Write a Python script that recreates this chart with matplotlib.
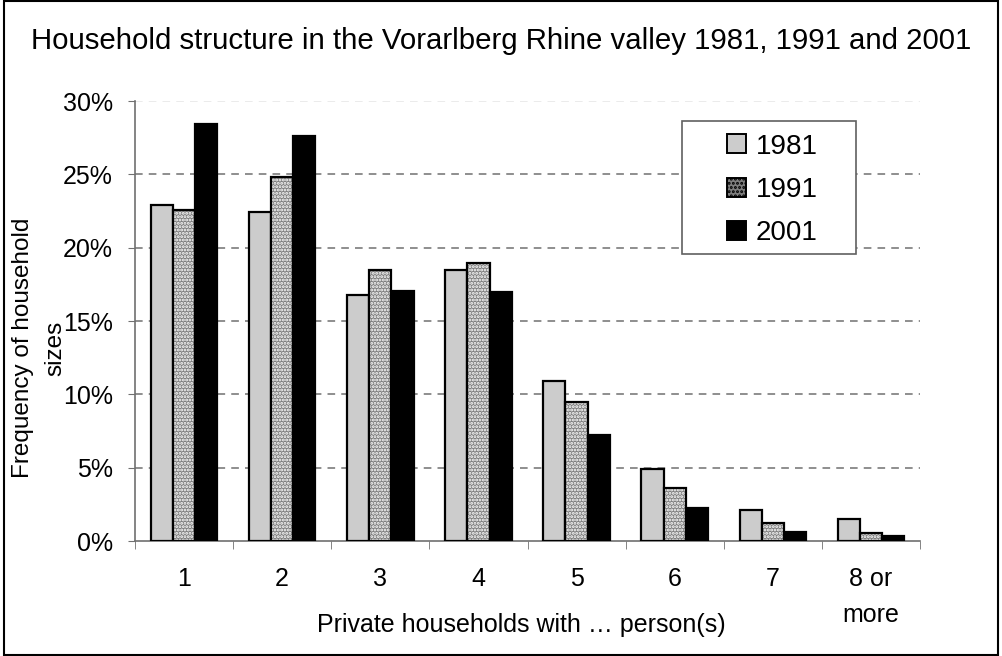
import numpy as np
import matplotlib.pyplot as plt
from matplotlib.patches import Patch, Rectangle

plt.rcParams['font.family'] = ['Liberation Sans', 'DejaVu Sans']
plt.rcParams['hatch.linewidth'] = 1.4

categories = ["1", "2", "3", "4", "5", "6", "7", "8 or\nmore"]
years = ["1981", "1991", "2001"]
v1981 = [22.9, 22.4, 16.8, 18.5, 10.9, 4.9, 2.1, 1.5]
v1991 = [22.6, 24.8, 18.5, 18.95, 9.5, 3.6, 1.25, 0.57]
v2001 = [28.4, 27.6, 17.05, 16.95, 7.25, 2.25, 0.6, 0.32]

fig = plt.figure(figsize=(10.02, 6.56), dpi=100)
ax = fig.add_axes([0.1347, 0.1753, 0.7835, 0.6707])

x = np.arange(len(categories))
w = 0.226

# grid
for g in [5, 10, 15, 20, 25]:
    ax.axhline(g, color='#707070', ls=(0, (5, 4)), lw=1.1, zorder=0)
ax.axhline(30, color='#e6e6e6', ls=(0, (5, 4)), lw=1.1, zorder=0)

ax.bar(x - w, v1981, w, color='#cccccc', edgecolor='black', lw=1.6, zorder=3)
# dotted pattern for 1991: grey fill with white dots, then black outline
ax.bar(x, v1991, w, color='#7f7f7f', edgecolor='white', hatch='.....', lw=0, zorder=3)
ax.bar(x, v1991, w, fill=False, edgecolor='black', lw=1.6, zorder=4)
ax.bar(x + w, v2001, w, color='black', edgecolor='black', lw=1.6, zorder=3)

ax.set_xlim(-0.5, len(categories) - 0.5)
ax.set_ylim(0, 30)
ax.set_yticks(range(0, 31, 5))
ax.set_yticklabels([f"{t}%" for t in range(0, 31, 5)], fontsize=18)
ax.set_xticks(x)
ax.set_xticklabels(categories, fontsize=18, linespacing=1.6)
ax.set_xticks(np.arange(-0.5, len(categories)), minor=True)
ax.tick_params(axis='x', which='major', length=0, pad=19)
ax.tick_params(axis='x', which='minor', length=5.5, color='#707070', direction='out')
ax.tick_params(axis='y', length=5, color='#707070', direction='out', pad=11)

for s in ['top', 'right']:
    ax.spines[s].set_visible(False)
for s in ['left', 'bottom']:
    ax.spines[s].set_color('#707070')
    ax.spines[s].set_linewidth(1.2)

ax.set_xlabel("Private households with \u2026 person(s)", fontsize=18)
ax.xaxis.label.set_va('center')
ax.xaxis.set_label_coords(0.4917, -0.19)
ax.set_ylabel("Frequency of household\nsizes", fontsize=17.5, linespacing=1.63)
ax.yaxis.label.set_va('center')
ax.yaxis.set_label_coords(-0.1223, 0.4386)

fig.text(0.5, 0.938, "Household structure in the Vorarlberg Rhine valley 1981, 1991 and 2001",
         ha='center', va='center', fontsize=21.2)

# legend box drawn by hand, entries placed inside it
ax.add_patch(Rectangle((0.697, 0.652), 0.2217, 0.303, transform=ax.transAxes,
                       facecolor='white', edgecolor='#606060', lw=1.2, zorder=5))
handles = [
    Patch(facecolor='#cccccc', edgecolor='black', lw=1.4),
    Patch(facecolor='#7f7f7f', edgecolor='black', lw=1.4, hatch='....'),
    Patch(facecolor='black', edgecolor='black', lw=1.4),
]
leg = ax.legend(handles, years, loc='center', bbox_to_anchor=(0.812, 0.798),
                fontsize=20, frameon=False, handlelength=0.68,
                handleheight=0.68, handletextpad=0.36, labelspacing=0.62,
                borderpad=0, borderaxespad=0)
leg.set_zorder(6)

# outer frame around the whole chart
fig.patches.append(Rectangle((0.0035, 0.002), 0.993, 0.996, transform=fig.transFigure,
                             fill=False, edgecolor='black', lw=1.5))

fig.savefig("out.png", dpi=100)
